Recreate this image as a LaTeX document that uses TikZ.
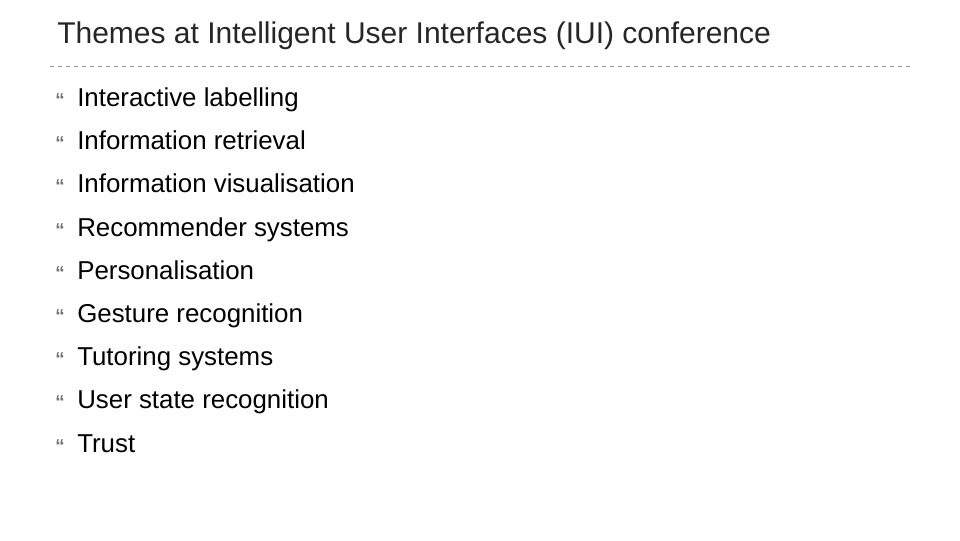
\documentclass[tikz,border=0pt]{standalone}
\usepackage{fontspec}
\setmainfont{Liberation Sans}
\begin{document}
\begin{tikzpicture}[x=0.75pt,y=-0.75pt,
    titletext/.style={anchor=base west,inner sep=0pt,font=\fontsize{22.5}{27}\selectfont,text=black!85},
    itemtext/.style={anchor=base west,inner sep=0pt,font=\fontsize{19.4}{23}\selectfont},
    bulletmark/.style={anchor=base west,inner sep=0pt,font=\fontsize{14}{16}\selectfont\bfseries,text=black!55}]
  \fill[white] (0,0) rectangle (960,540);
  \node[titletext] (title) at (57,43) {Themes at Intelligent User Interfaces (IUI) conference};
  \coordinate (ruleL) at (50,66); \coordinate (ruleR) at (912,66);
  \draw[black!40,dashed,line width=0.5pt] (ruleL) -- (ruleR);
  \foreach \txt [count=\i] in {Interactive labelling,Information retrieval,Information visualisation,
      Recommender systems,Personalisation,Gesture recognition,Tutoring systems,
      User state recognition,Trust}{
    \node[bulletmark] (b\i) at (55,{106.5+43.2*(\i-1)}) {\textquotedblleft};
    \node[itemtext] (item\i) at (77,{106.5+43.2*(\i-1)}) {\txt};
  }
\end{tikzpicture}
\end{document}
